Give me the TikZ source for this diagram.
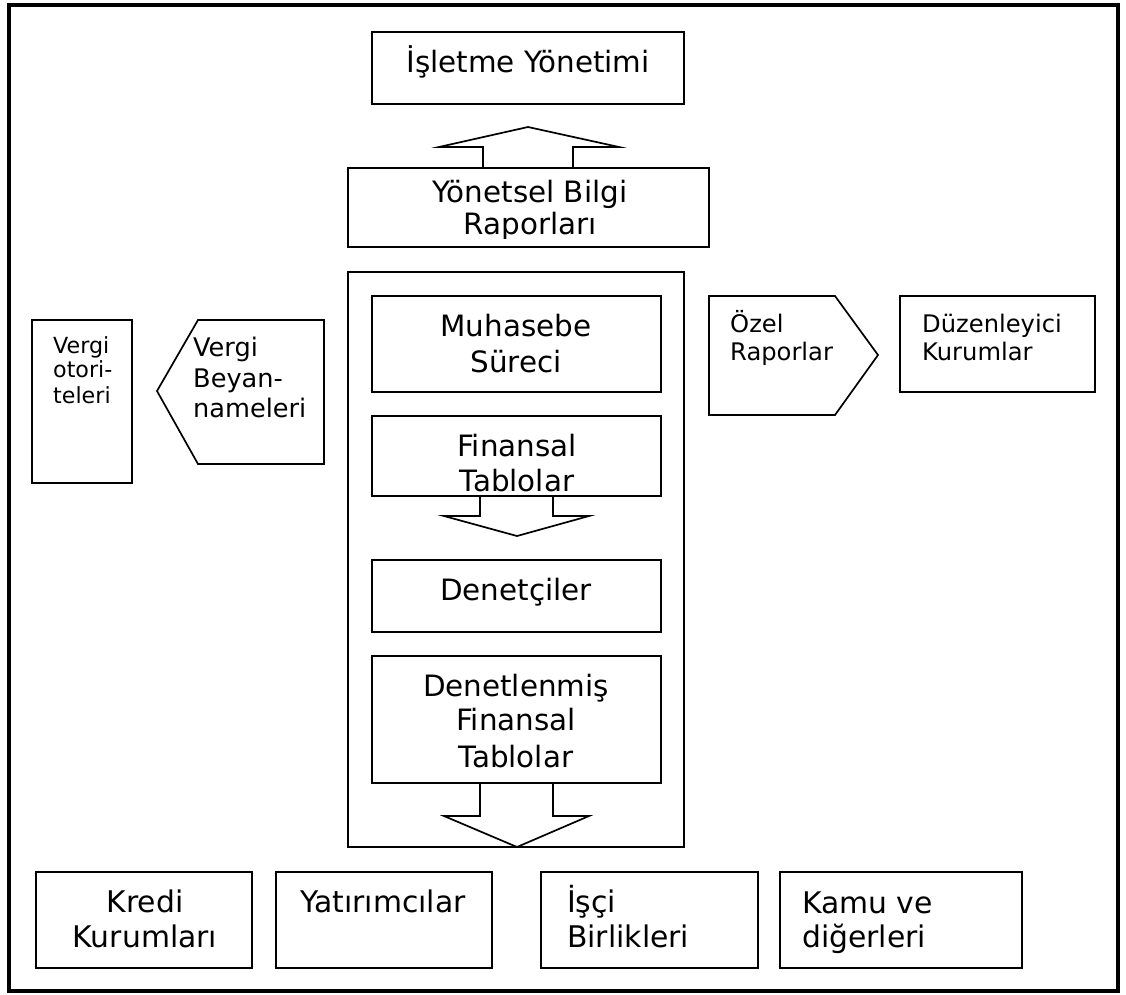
\documentclass[tikz,border=0pt]{standalone}
\usepackage{fontspec}
\setmainfont{DejaVu Sans}
\begin{document}
\begin{tikzpicture}[x=1pt,y=-1pt,
  box/.style={draw, line width=1.7pt, rectangle, inner sep=0pt},
  shp/.style={draw, line width=1.7pt, line join=miter},
  big/.style={inner sep=0pt, font=\fontsize{29.4}{34}\selectfont},
  bot/.style={inner sep=0pt, font=\fontsize{29.8}{34}\selectfont},
  mid/.style={inner sep=0pt, font=\fontsize{24.2}{28}\selectfont},
  vbn/.style={inner sep=0pt, font=\fontsize{25.6}{30}\selectfont},
  sml/.style={inner sep=0pt, font=\fontsize{22.2}{25}\selectfont}]
\useasboundingbox (0,0) rectangle (1126,994);
% outer frame
\draw[line width=3.6pt] (9,5) rectangle (1118,991);

% boxes
\node[box, minimum width=312pt, minimum height=72pt] (isl) at (528,68) {};
\node[box, minimum width=361pt, minimum height=79pt] (yon) at (528.5,207.5) {};
\node[box, minimum width=336pt, minimum height=575pt] (cont) at (516,559.5) {};
\node[box, minimum width=289pt, minimum height=96pt] (muh) at (516.5,344) {};
\node[box, minimum width=289pt, minimum height=80pt] (fin) at (516.5,456) {};
\node[box, minimum width=289pt, minimum height=72pt] (den) at (516.5,596) {};
\node[box, minimum width=289pt, minimum height=127pt] (dfin) at (516.5,719.5) {};
\node[box, minimum width=100pt, minimum height=163pt] (votr) at (82,401.5) {};
\node[box, minimum width=195pt, minimum height=96pt] (duz) at (997.5,344) {};
\node[box, minimum width=216pt, minimum height=96pt] (kredi) at (144,920) {};
\node[box, minimum width=216pt, minimum height=96pt] (yat) at (384,920) {};
\node[box, minimum width=217pt, minimum height=96pt] (isci) at (649.5,920) {};
\node[box, minimum width=242pt, minimum height=96pt] (kamu) at (901,920) {};

% pentagons
\draw[shp] (324,320) coordinate (vbne) -- (198,320) -- (157,391) coordinate (vbtip) -- (198,464) -- (324,464) -- cycle;
\draw[shp] (709,296) coordinate (oznw) -- (835,296) -- (878,355) coordinate (oztip) -- (835,415) -- (709,415) -- cycle;

% block arrows
\draw[shp] (483,168) -- (483,147) -- (439,147) -- (528,127) coordinate (uptip) -- (619,147) -- (573,147) -- (573,168);
\draw[shp] (480,496) -- (480,516) -- (444,516) -- (517,536) coordinate (d1tip) -- (589,516) -- (553,516) -- (553,496);
\draw[shp] (480,783) -- (480,816) -- (444,816) -- (517,847) coordinate (d2tip) -- (589,816) -- (553,816) -- (553,783);

% texts
\node[big, anchor=base] (t1) at (528,72) {İşletme Yönetimi};
\begin{scope}
\clip (348,168) rectangle (709,238.5);
\node[big, anchor=base] (t2) at (530,202) {Yönetsel Bilgi};
\node[big, anchor=base] (t3) at (530,234) {Raporları};
\end{scope}
\node[big, anchor=base] (t4) at (516,336) {Muhasebe};
\node[big, anchor=base] (t5) at (516,372) {Süreci};
\node[big, anchor=base] (t6) at (517,456) {Finansal};
\node[big, anchor=base] (t7) at (517,491) {Tablolar};
\node[big, anchor=base] (t8) at (516,600) {Denetçiler};
\node[big, anchor=base] (t9) at (516,696) {Denetlenmiş};
\node[big, anchor=base] (t10) at (516,730) {Finansal};
\node[big, anchor=base] (t11) at (516,767) {Tablolar};

\node[sml, anchor=base west] (t12) at (53,353) {Vergi};
\node[sml, anchor=base west] (t13) at (53,377) {otori-};
\node[sml, anchor=base west] (t14) at (53,403) {teleri};

\node[vbn, anchor=base west] (t15) at (193,356) {Vergi};
\node[vbn, anchor=base west] (t16) at (193,387) {Beyan-};
\node[vbn, anchor=base west] (t17) at (193,417) {nameleri};

\node[mid, anchor=base west] (t18) at (730,332) {Özel};
\node[mid, anchor=base west] (t19) at (730,360) {Raporlar};
\node[mid, anchor=base west] (t20) at (922,332) {Düzenleyici};
\node[mid, anchor=base west] (t21) at (922,360) {Kurumlar};

\node[bot, anchor=base] (t22) at (145,912) {Kredi};
\node[bot, anchor=base] (t23) at (145,947) {Kurumları};
\node[bot, anchor=base] (t24) at (383,912) {Yatırımcılar};
\node[bot, anchor=base west] (t25) at (567,912) {İşçi};
\node[bot, anchor=base west] (t26) at (567,947) {Birlikleri};
\node[bot, anchor=base west] (t27) at (802,913) {Kamu ve};
\node[bot, anchor=base west] (t28) at (802,947) {diğerleri};
\end{tikzpicture}
\end{document}
